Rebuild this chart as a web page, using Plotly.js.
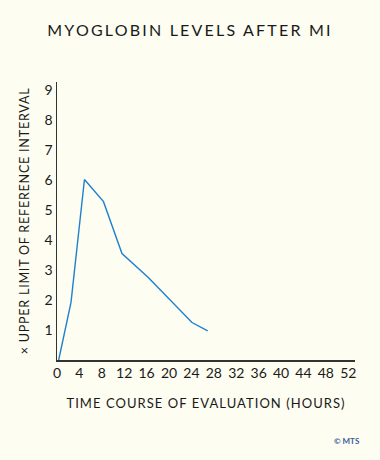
<!DOCTYPE html>
<html>
<head>
<meta charset="utf-8">
<script src="https://cdn.plot.ly/plotly-3.0.1.min.js"></script>
<style>
html,body{margin:0;padding:0;background:#FDFDF1;}
#chart{width:380px;height:460px;}
#chart .gtitle{letter-spacing:2.2px;}
#chart .xtitle{letter-spacing:1.05px;}
#chart .ytitle{letter-spacing:0.8px;}
</style>
</head>
<body>
<div id="chart"></div>
<script>
// Data
const hours = [0.3, 2.5, 4.9, 8.3, 11.6, 16.3, 24.1, 26.9];
const myoglobin = [0, 1.92, 6.02, 5.28, 3.55, 2.75, 1.25, 0.97];
const xTicks = [0, 4, 8, 12, 16, 20, 24, 28, 32, 36, 40, 44, 48, 52];
const yTicks = [1, 2, 3, 4, 5, 6, 7, 8, 9];

const fontFam = 'Lato, "Open Sans", sans-serif';
const trace = {
  x: hours,
  y: myoglobin,
  type: 'scatter',
  mode: 'lines',
  line: {color: '#1f80cf', width: 1.4},
  hoverinfo: 'skip'
};

const layout = {
  width: 380,
  height: 460,
  paper_bgcolor: '#FDFDF1',
  plot_bgcolor: '#FDFDF1',
  margin: {l: 57, r: 25, t: 82, b: 100},
  showlegend: false,
  title: {
    text: 'MYOGLOBIN LEVELS AFTER MI',
    font: {family: fontFam, size: 16, color: '#1a1a1a'},
    x: 0.5, xanchor: 'center',
    y: 0.935, yanchor: 'middle'
  },
  xaxis: {
    range: [0, 53.2],
    tickvals: xTicks,
    ticktext: xTicks.map(String),
    showline: true, linecolor: '#333', linewidth: 1.5,
    showgrid: false, zeroline: false, ticks: '',
    tickfont: {family: fontFam, size: 14, color: '#1a1a1a'},
    title: {text: 'TIME COURSE OF EVALUATION (HOURS)',
      font: {family: fontFam, size: 13, color: '#1a1a1a'}, standoff: 18},
    fixedrange: true
  },
  yaxis: {
    range: [0, 9.27],
    tickvals: yTicks,
    ticktext: yTicks.map(String),
    showline: true, linecolor: '#333', linewidth: 1.5,
    showgrid: false, zeroline: false, ticks: '',
    tickfont: {family: fontFam, size: 14, color: '#1a1a1a'},
    title: {text: '× UPPER LIMIT OF REFERENCE INTERVAL',
      font: {family: fontFam, size: 12.5, color: '#1a1a1a'}, standoff: 12},
    fixedrange: true
  },
  annotations: [{
    text: '<b>© MTS</b>',
    xref: 'paper', yref: 'paper',
    x: 1.024, y: -0.291, xanchor: 'right', yanchor: 'middle',
    showarrow: false,
    font: {family: fontFam, size: 8, color: '#3b5b9c'}
  }]
};

Plotly.newPlot('chart', [trace], layout, {displayModeBar: false, staticPlot: true});
</script>
</body>
</html>
